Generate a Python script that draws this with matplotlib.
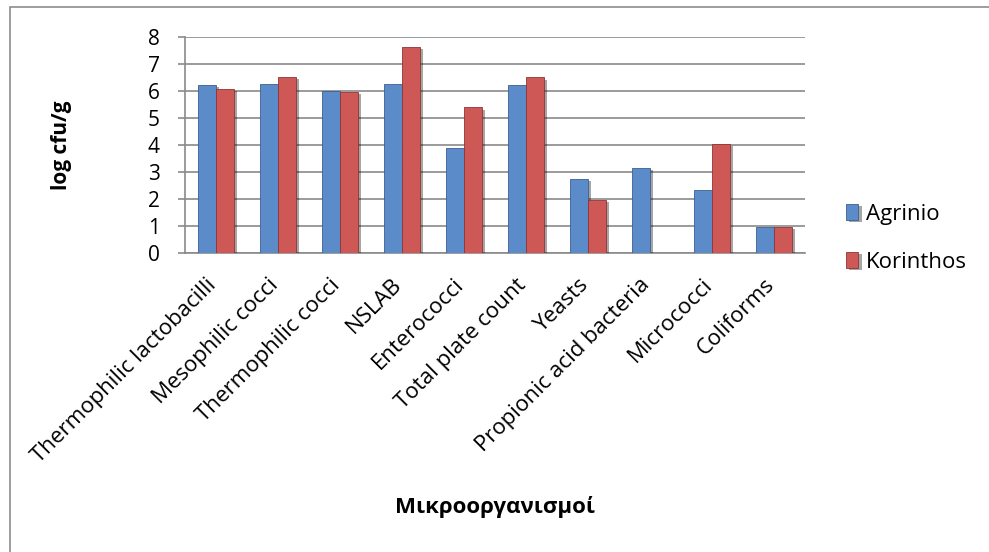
import matplotlib
matplotlib.use("Agg")
import matplotlib.pyplot as plt
import matplotlib.patheffects as pe
import matplotlib.transforms as mtransforms
from matplotlib.patches import Rectangle
import numpy as np

categories = [
    "Thermophilic lactobacilli", "Mesophilic cocci", "Thermophilic cocci",
    "NSLAB", "Enterococci", "Total plate count", "Yeasts",
    "Propionic acid bacteria", "Micrococci", "Coliforms",
]
agrinio = [6.21, 6.26, 5.98, 6.23, 3.89, 6.21, 2.74, 3.14, 2.33, 0.95]
korinthos = [6.07, 6.51, 5.95, 7.63, 5.38, 6.49, 1.95, 0.0, 4.04, 0.95]
series_names = ["Agrinio", "Korinthos"]
y_ticks = [0, 1, 2, 3, 4, 5, 6, 7, 8]

plt.rcParams["font.family"] = ["Open Sans", "DejaVu Sans"]

fig = plt.figure(figsize=(9.89, 5.52), dpi=100)
fig.patch.set_facecolor("white")

# outer chart frame
fig.patches.append(Rectangle((10 / 989, -0.1), 1.2, 1 - 7 / 552 + 0.1,
                             transform=fig.transFigure, fill=False,
                             edgecolor="#8c8c8c", linewidth=1.2))

ax = fig.add_axes([185 / 989, 1 - 252.7 / 552, 620 / 989, 216 / 552])

x = np.arange(len(categories))
width = 1 / 3.5
shadow = [pe.SimplePatchShadow(offset=(2.5, -1.5), shadow_rgbFace="#000000", alpha=0.35),
          pe.Normal()]

b1 = ax.bar(x - width / 2, agrinio, width, color="#5B8BC8", edgecolor="#3A5F8F",
            linewidth=0.6, label=series_names[0], zorder=3)
b2 = ax.bar(x + width / 2, korinthos, width, color="#CD5856", edgecolor="#8E3432",
            linewidth=0.6, label=series_names[1], zorder=3)
for bars in (b1, b2):
    for p in bars:
        p.set_path_effects(shadow)

ax.set_xlim(-0.5, len(categories) - 0.5)
ax.set_ylim(0, 8)
ax.set_yticks(y_ticks)
ax.yaxis.grid(True, color="#8a8a8a", linewidth=1.2, zorder=0)
ax.set_axisbelow(True)

for s in ("top", "right"):
    ax.spines[s].set_visible(False)
for s in ("left", "bottom"):
    ax.spines[s].set_color("#8a8a8a")
    ax.spines[s].set_linewidth(1.2)

ax.tick_params(axis="y", length=5, width=1.2, color="#8a8a8a", pad=13,
               labelsize=15)
ax.tick_params(axis="x", length=0, pad=21)
ax.set_xticks(x)
ax.set_xticklabels(categories, rotation=45, ha="right", va="center",
                   rotation_mode="anchor", fontsize=16)
shift = mtransforms.ScaledTranslation(-3 / 100, 0, fig.dpi_scale_trans)
for lbl in ax.get_xticklabels():
    lbl.set_transform(lbl.get_transform() + shift)

fig.text(62 / 989, 1 - 145 / 552, "log cfu/g", rotation=90, ha="center",
         va="center", fontsize=15, fontweight="bold")
fig.text(495 / 989, 1 - 507 / 552, "Μικροοργανισμοί", ha="center",
         va="center", fontsize=16, fontweight="bold")

leg = fig.legend(handles=[b1, b2], labels=series_names,
                 loc="upper left", bbox_to_anchor=(826 / 989, 1 - 184 / 552),
                 frameon=False, fontsize=16, handlelength=0.55,
                 handleheight=0.75, handletextpad=0.35, labelspacing=1.2)

fig.savefig("out.png", dpi=100, facecolor="white")
